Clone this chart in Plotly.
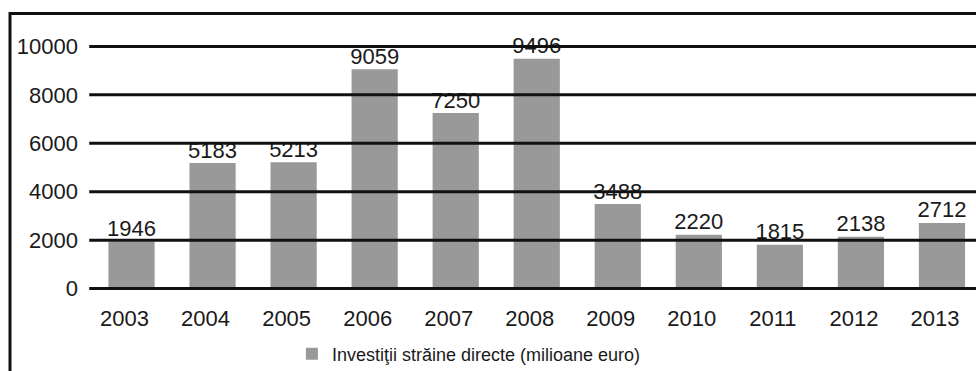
import plotly.graph_objects as go

years = ["2003", "2004", "2005", "2006", "2007", "2008", "2009", "2010", "2011", "2012", "2013"]
fdi_values = [1946, 5183, 5213, 9059, 7250, 9496, 3488, 2220, 1815, 2138, 2712]
y_ticks = [0, 2000, 4000, 6000, 8000, 10000]
y_tick_labels = ["0", "2000", "4000", "6000", "8000", "10000"]
series_name = "Investiţii străine directe (milioane euro)"

FONT = "Liberation Sans, Arial, sans-serif"
W, H = 976, 371
ML, MT, MB = 91, 44.2, 79.8

fig = go.Figure()
fig.add_trace(go.Bar(
    x=years,
    y=fdi_values,
    name=series_name,
    marker=dict(color="#999999", line=dict(width=0)),
    showlegend=True,
))
fig.add_trace(go.Scatter(
    x=years,
    y=fdi_values,
    mode="text",
    text=[str(v) for v in fdi_values],
    textposition="top center",
    textfont=dict(family=FONT, size=22, color="#1a1a1a"),
    cliponaxis=False,
    showlegend=False,
    hoverinfo="skip",
))

# horizontal gridlines drawn above the bars (as in the reference)
for t in y_ticks:
    fig.add_shape(type="line", xref="paper", yref="y", x0=-0.002, x1=1.01, y0=t, y1=t,
                  line=dict(color="#111111", width=3), layer="above")

# outer frame (left and top edges visible in the crop)
plot_h = H - MT - MB
plot_w = W - ML
fx = (10 - ML) / plot_w
fy = (H - MB - 13.8) / plot_h
fig.add_shape(type="path", xref="paper", yref="paper",
              path=f"M {fx},-0.6 L {fx},{fy} L 1.1,{fy}",
              line=dict(color="#111111", width=3), layer="above")

fig.update_layout(
    width=W, height=H,
    margin=dict(l=ML, r=0, t=MT, b=MB, pad=0, autoexpand=False),
    paper_bgcolor="white", plot_bgcolor="white",
    font=dict(family=FONT, size=22, color="#1a1a1a"),
    bargap=0.43,
    showlegend=True,
    legend=dict(orientation="h", x=0.427, xanchor="center", y=-0.255, yanchor="middle",
                font=dict(family=FONT, size=18, color="#1a1a1a"),
                bgcolor="rgba(0,0,0,0)", itemclick=False),
    xaxis=dict(type="category", range=[-0.5, 10.42], showgrid=False, showline=False,
               zeroline=False, ticks="", ticklabelshift=-7, ticklabelstandoff=12,
               automargin=False,
               tickfont=dict(family=FONT, size=22, color="#1a1a1a")),
    yaxis=dict(range=[-100, 10100], tickvals=y_ticks, ticktext=y_tick_labels, showgrid=False,
               showline=False, zeroline=False, ticks="", ticklabelstandoff=12,
               automargin=False,
               tickfont=dict(family=FONT, size=22, color="#1a1a1a")),
)

fig.write_html(
    "out.html",
    config={"displayModeBar": False},
    post_script="document.body.style.margin='0';document.body.style.overflow='hidden';",
)
